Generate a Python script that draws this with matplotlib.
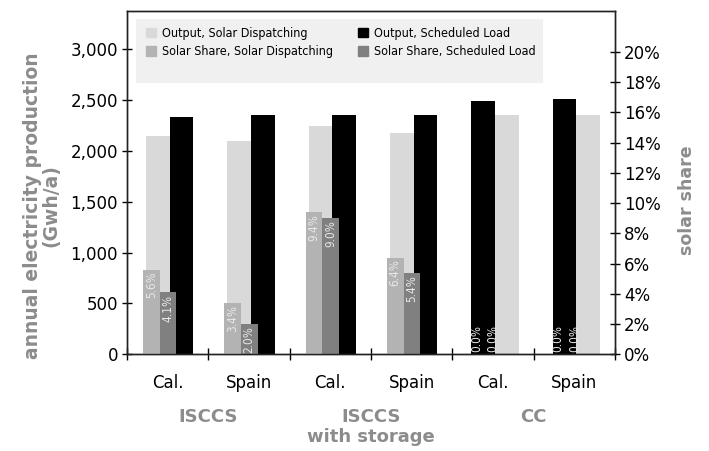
import numpy as np
import matplotlib
matplotlib.use("Agg")
import matplotlib.pyplot as plt
from matplotlib.patches import Rectangle, Patch
from matplotlib.ticker import FuncFormatter

# data
sites = ["Cal.", "Spain", "Cal.", "Spain", "Cal.", "Spain"]
groups = ["ISCCS", "ISCCS\nwith storage", "CC"]

# output bars, left / right in each group (GWh/a)
out_first = [2150, 2100, 2240, 2180, 2490, 2510]
out_second = [2335, 2350, 2350, 2355, 2355, 2355]
# solar share (%)
share_solar = [5.6, 3.4, 9.4, 6.4, 0.0, 0.0]
share_sched = [4.1, 2.0, 9.0, 5.4, 0.0, 0.0]

legend_labels = ["Output, Solar Dispatching", "Solar Share, Solar Dispatching",
                 "Output, Scheduled Load", "Solar Share, Scheduled Load"]

# colours
C_OUT_SOLAR = "#d9d9d9"
C_OUT_SCHED = "#000000"
C_SH_SOLAR = "#b3b3b3"
C_SH_SCHED = "#808080"
GRAY_TXT = "#8c8c8c"
first_colors = [C_OUT_SOLAR] * 4 + [C_OUT_SCHED] * 2
second_colors = [C_OUT_SCHED] * 4 + [C_OUT_SOLAR] * 2

plt.rcParams["font.family"] = ["DejaVu Sans"]

W, H = 709, 451
fig = plt.figure(figsize=(W / 100, H / 100), dpi=100)
ax = fig.add_axes([127 / W, 1 - 354.3 / H, (615 - 127) / W, (354.3 - 11) / H])

x = np.arange(len(sites))
w_out, off_out = 0.29, 0.025
ax.bar(x + off_out - w_out / 2, out_first, w_out, color=first_colors, zorder=2)
ax.bar(x + off_out + w_out / 2, out_second, w_out, color=second_colors, zorder=2)
ax.set_xlim(-0.5, len(sites) - 0.5)
ax.set_ylim(0, 3375)
ax.set_yticks(np.arange(0, 3001, 500))
ax.yaxis.set_major_formatter(FuncFormatter(lambda v, p: f"{int(v):,}"))
ax.tick_params(axis="y", direction="inout", length=7, width=1, labelsize=12, pad=3)

ax.set_xticks(x)
ax.set_xticklabels(sites)
ax.set_xticks(np.arange(-0.5, len(sites), 1), minor=True)
ax.tick_params(axis="x", which="major", length=0, labelsize=12, pad=14)
ax.tick_params(axis="x", which="minor", direction="inout", length=8, width=1)

ax2 = ax.twinx()
ax2.set_ylim(0, 22.7)
ax2.set_yticks(np.arange(0, 21, 2))
ax2.yaxis.set_major_formatter(FuncFormatter(lambda v, p: f"{int(v)}%"))
ax2.tick_params(axis="y", direction="inout", length=7, width=1, labelsize=12, pad=3)

w_sh, off_sh = 0.205, -0.10
xs1 = x + off_sh - w_sh / 2
xs2 = x + off_sh + w_sh / 2
ax2.bar(xs1, share_solar, w_sh, color=C_SH_SOLAR, zorder=2)
ax2.bar(xs2, share_sched, w_sh, color=C_SH_SCHED, zorder=2)

for xs, vals in ((xs1, share_solar), (xs2, share_sched)):
    for xc, v in zip(xs, vals):
        if v > 0:
            ax2.annotate(f"{v:.1f}%", xy=(xc, v), xytext=(0, -1.5), textcoords="offset points",
                         rotation=90, ha="center", va="top", fontsize=8.5,
                         color="#e8e8e8", fontstretch="condensed")
        else:
            ax2.annotate(f"{v:.1f}%", xy=(xc, 0), xytext=(0, 2), textcoords="offset points",
                         rotation=90, ha="center", va="bottom", fontsize=8.5,
                         color="#e8e8e8", fontstretch="condensed")

for a in (ax, ax2):
    for s in a.spines.values():
        s.set_color("#222222")
        s.set_linewidth(1)

# group labels under the site names
for i, g in enumerate(groups):
    ax.text(2 * i + 0.5, -0.155, g, transform=ax.get_xaxis_transform(), ha="center",
            va="top", fontsize=13, fontweight="bold", color=GRAY_TXT, linespacing=1.15)

fig.text(42 / W, 1 - 206 / H, "annual electricity production\n(Gwh/a)", rotation=90,
         ha="center", va="center", fontsize=13.5, fontweight="bold", color=GRAY_TXT,
         linespacing=0.95)
fig.text(687 / W, 1 - 200 / H, "solar share", rotation=90, ha="center", va="center",
         fontsize=12.5, fontweight="bold", color=GRAY_TXT)

# legend: grey box + two single-column legends
ax2.add_patch(Rectangle((136 / W, 1 - 83 / H), (543 - 136) / W, 64 / H,
                        transform=fig.transFigure, facecolor="#f0f0f0",
                        edgecolor="none", zorder=0.5, clip_on=False))
handles = [Patch(color=c) for c in (C_OUT_SOLAR, C_SH_SOLAR, C_OUT_SCHED, C_SH_SCHED)]
leg_kw = dict(loc="upper left", bbox_transform=fig.transFigure, frameon=False,
              handlelength=0.8, handleheight=0.8, handletextpad=0.45,
              labelspacing=0.42, borderpad=0, borderaxespad=0,
              prop={"family": "DejaVu Sans", "stretch": "condensed", "size": 9})
leg1 = ax2.legend(handles[:2], legend_labels[:2], bbox_to_anchor=(146 / W, 1 - 27 / H), **leg_kw)
ax2.add_artist(leg1)
ax2.legend(handles[2:], legend_labels[2:], bbox_to_anchor=(358 / W, 1 - 27 / H), **leg_kw)

fig.savefig("out.png", dpi=100)
